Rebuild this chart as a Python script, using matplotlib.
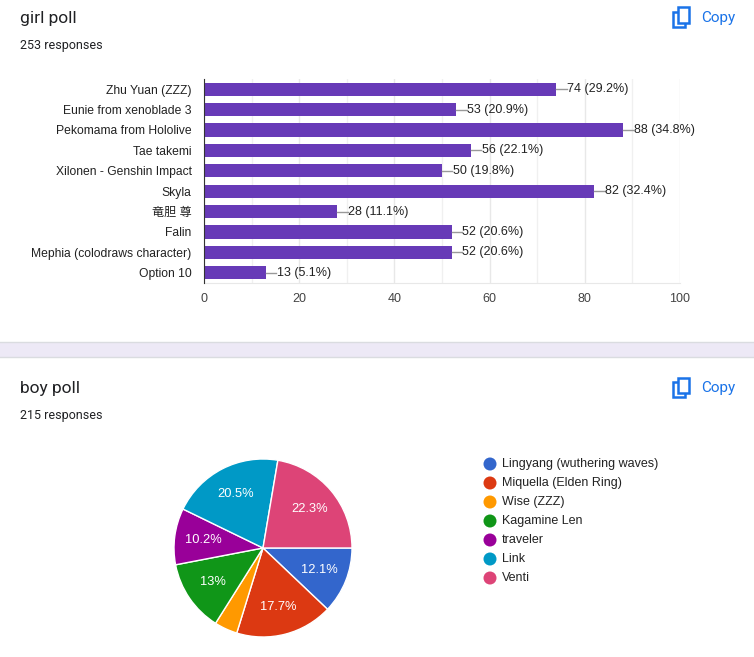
import matplotlib.pyplot as plt
from matplotlib.patches import Rectangle, Ellipse

# girl poll (bar chart)
girl_names = ["Zhu Yuan (ZZZ)", "Eunie from xenoblade 3", "Pekomama from Hololive",
              "Tae takemi", "Xilonen - Genshin Impact", "Skyla", "竜胆 尊", "Falin",
              "Mephia (colodraws character)", "Option 10"]
girl_votes = [74, 53, 88, 56, 50, 82, 28, 52, 52, 13]
girl_total = 253

# boy poll (pie chart)
boy_names = ["Lingyang (wuthering waves)", "Miquella (Elden Ring)", "Wise (ZZZ)",
             "Kagamine Len", "traveler", "Link", "Venti"]
boy_votes = [26, 38, 9, 28, 22, 44, 48]
boy_total = 215
boy_colors = ["#3366cc", "#dc3912", "#ff9900", "#109618", "#990099", "#0099c6", "#dd4477"]

W, H = 754, 657
fig = plt.figure(figsize=(W / 100, H / 100), dpi=100)
fig.patch.set_facecolor("white")


def fx(x):
    return x / W


def fy(y):
    return 1 - y / H


txt = ["Liberation Sans", "Noto Sans CJK JP", "DejaVu Sans"]
head = ["Roboto", "DejaVu Sans"]

# band between the two cards
fig.patches.append(Rectangle((0, fy(357)), 1, (357 - 342) / H, transform=fig.transFigure,
                             facecolor="#ede9f6", edgecolor="none", zorder=0))
for yy in (342, 357):
    fig.lines.append(plt.Line2D([0, 1], [fy(yy), fy(yy)], transform=fig.transFigure,
                                color="#dadce0", lw=1))


# headers
def header(y_title, title, n):
    fig.text(fx(20), fy(y_title), title, family=head, fontsize=12.5, color="#202124", va="center")
    fig.text(fx(20), fy(y_title + 28), f"{n} responses", family=head, fontsize=9,
             color="#202124", va="center")
    # copy icon
    fig.patches.append(Rectangle((fx(673), fy(y_title + 9)), 12 / W, 15 / H,
                                 transform=fig.transFigure, fill=False,
                                 edgecolor="#1a73e8", lw=1.8))
    fig.patches.append(Rectangle((fx(677.5), fy(y_title + 4.5)), 11 / W, 15 / H,
                                 transform=fig.transFigure, facecolor="white",
                                 edgecolor="#1a73e8", lw=1.8))
    fig.text(fx(701), fy(y_title), "Copy", family=head, fontsize=11, color="#1a73e8",
             va="center")


header(18, "girl poll", girl_total)
header(388, "boy poll", boy_total)

# bar chart
ax = fig.add_axes([fx(204), fy(283), 476 / W, 204 / H])
ypos = list(range(len(girl_names)))
ax.barh(ypos, girl_votes, height=0.64, color="#673ab7", zorder=3)
ax.set_ylim(len(girl_names) - 0.5, -0.5)
ax.set_xlim(0, 100)
ax.set_xticks([0, 20, 40, 60, 80, 100])
ax.set_xticks(range(10, 100, 20), minor=True)
ax.grid(axis="x", which="major", color="#e8e8e8", lw=1, zorder=0)
ax.grid(axis="x", which="minor", color="#f0f0f0", lw=1, zorder=0)
ax.set_yticks(ypos)
ax.set_yticklabels(girl_names, family=txt, fontsize=8.7, color="#222222")
for lab in ax.get_xticklabels():
    lab.set_family(txt)
    lab.set_fontsize(9)
    lab.set_color("#444444")
ax.tick_params(axis="both", which="both", length=0)
ax.tick_params(axis="y", pad=9)
ax.tick_params(axis="x", pad=7)
for s in ("top", "right"):
    ax.spines[s].set_visible(False)
ax.spines["bottom"].set_color("#e8e8e8")
ax.spines["left"].set_color("#333333")
ax.spines["left"].set_zorder(4)

for i, v in enumerate(girl_votes):
    ax.plot([v, v + 2.2], [i, i], color="#999999", lw=1, zorder=3, clip_on=False)
    ax.text(v + 2.3, i, f"{v} ({v / girl_total * 100:.1f}%)", family=txt, fontsize=9,
            color="#222222", va="center", ha="left")

# pie chart
pax = fig.add_axes([fx(263 - 89), fy(548 + 89), 178 / W, 178 / H])


def pct_fmt(p):
    if p < 5:
        return ""
    s = f"{p:.1f}"
    return s[:-2] + "%" if s.endswith(".0") else s + "%"


wedges, _, autotexts = pax.pie(boy_votes, colors=boy_colors, startangle=0, counterclock=False,
                               autopct=pct_fmt, pctdistance=0.68,
                               wedgeprops=dict(edgecolor="white", linewidth=1))
for t in autotexts:
    t.set_color("white")
    t.set_family(txt)
    t.set_fontsize(9.3)
pax.set_xlim(-1, 1)
pax.set_ylim(-1, 1)

# legend
for i, (name, c) in enumerate(zip(boy_names, boy_colors)):
    y = 464 + i * 19
    fig.patches.append(Ellipse((fx(490), fy(y)), 13 / W, 13 / H, transform=fig.transFigure,
                               facecolor=c, edgecolor="none"))
    fig.text(fx(502), fy(y), name, family=txt, fontsize=9, color="#222222", va="center")

fig.savefig("out.png", dpi=100)
